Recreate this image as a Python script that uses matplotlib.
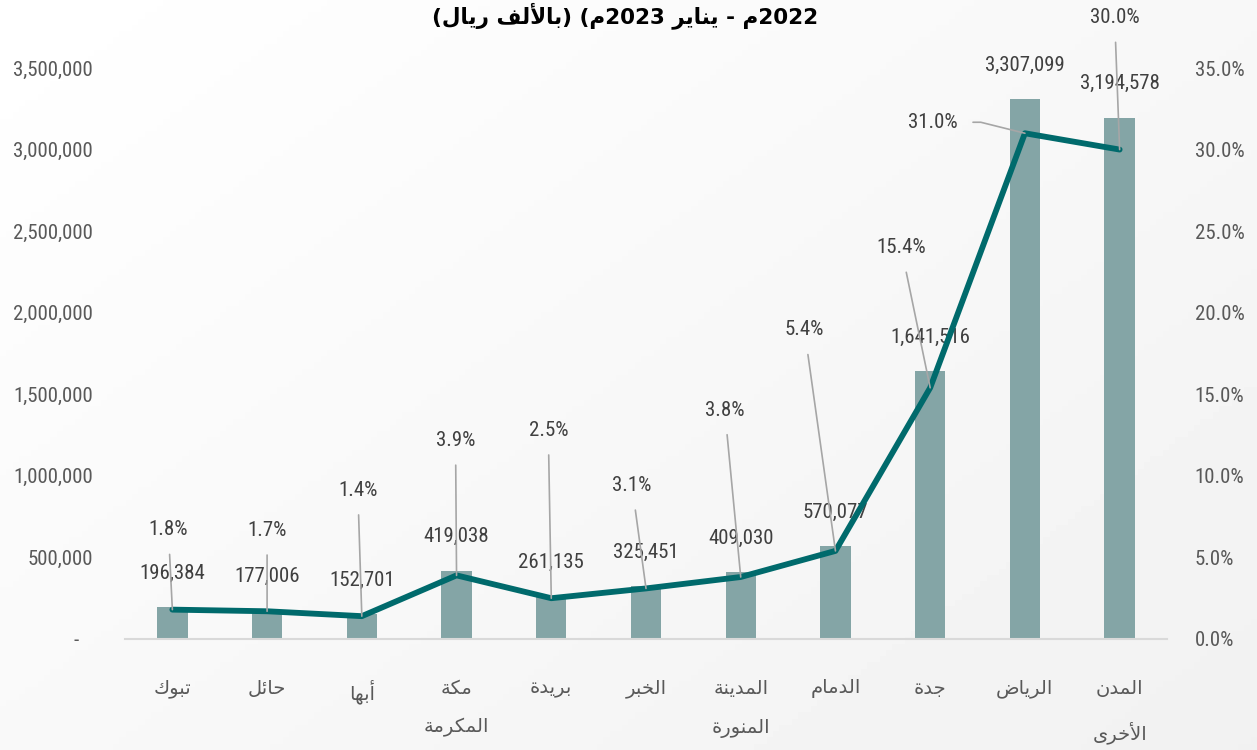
#!/usr/bin/env python3
import re
import numpy as np
import matplotlib
matplotlib.use('Agg')
import matplotlib.pyplot as plt
from matplotlib import font_manager
from matplotlib.ticker import FuncFormatter, MultipleLocator

# data (thousand SAR) and share of total
cities = ['تبوك', 'حائل', 'أبها', 'مكة\nالمكرمة', 'بريدة', 'الخبر',
          'المدينة\nالمنورة', 'الدمام', 'جدة', 'الرياض', 'المدن\nالأخرى']
values = [196384, 177006, 152701, 419038, 261135, 325451,
          409030, 570077, 1641516, 3307099, 3194578]
shares = [1.8, 1.7, 1.4, 3.9, 2.5, 3.1, 3.8, 5.4, 15.4, 31.0, 30.0]
title = '2022م - يناير 2023م) (بالألف ريال)'

# where each percentage label sits, in pixels from its point
pct_offsets = [(-4, 80), (0, 81), (-4, 126), (-1, 135), (-3, 168), (-14, 103),
               (-16, 167), (-31, 221), (-29, 140), (-92, 11), (-5, 132)]

# --- tiny arabic shaper: matplotlib does no shaping / bidi on its own
FORMS = {
    'آ': (0xFE81, False), 'أ': (0xFE83, False), 'ؤ': (0xFE85, False),
    'إ': (0xFE87, False), 'ئ': (0xFE89, True), 'ا': (0xFE8D, False),
    'ب': (0xFE8F, True), 'ة': (0xFE93, False), 'ت': (0xFE95, True),
    'ث': (0xFE99, True), 'ج': (0xFE9D, True), 'ح': (0xFEA1, True),
    'خ': (0xFEA5, True), 'د': (0xFEA9, False), 'ذ': (0xFEAB, False),
    'ر': (0xFEAD, False), 'ز': (0xFEAF, False), 'س': (0xFEB1, True),
    'ش': (0xFEB5, True), 'ص': (0xFEB9, True), 'ض': (0xFEBD, True),
    'ط': (0xFEC1, True), 'ظ': (0xFEC5, True), 'ع': (0xFEC9, True),
    'غ': (0xFECD, True), 'ف': (0xFED1, True), 'ق': (0xFED5, True),
    'ك': (0xFED9, True), 'ل': (0xFEDD, True), 'م': (0xFEE1, True),
    'ن': (0xFEE5, True), 'ه': (0xFEE9, True), 'و': (0xFEED, False),
    'ى': (0xFEEF, False), 'ي': (0xFEF1, True),
}
LAM_ALEF = {'آ': 0xFEF5, 'أ': 0xFEF7, 'إ': 0xFEF9, 'ا': 0xFEFB}


def shape(s):
    out = []
    i = 0
    prev = False
    while i < len(s):
        c = s[i]
        if c not in FORMS:
            out.append(c)
            prev = False
            i += 1
            continue
        nxt = s[i + 1] if i + 1 < len(s) else ''
        if c == 'ل' and nxt in LAM_ALEF:
            out.append(chr(LAM_ALEF[nxt] + (1 if prev else 0)))
            prev = False
            i += 2
            continue
        base, dual = FORMS[c]
        joins_next = dual and nxt in FORMS
        if prev and joins_next:
            f = 3
        elif prev:
            f = 1
        elif joins_next:
            f = 2
        else:
            f = 0
        out.append(chr(base + f))
        prev = dual
        i += 1
    return out


def ar(text):
    lines = []
    for line in text.split('\n'):
        s = ''.join(reversed(shape(line)))
        s = re.sub(r'[0-9]+', lambda m: m.group(0)[::-1], s)
        s = s.translate(str.maketrans('()', ')('))
        lines.append(s)
    return '\n'.join(lines)


names = {f.name for f in font_manager.fontManager.ttflist}
num_font, num_size = 'DejaVu Sans', 11.5
for name, size in [('Liberation Sans Narrow', 16), ('Roboto Condensed', 15),
                   ('DejaVu Sans Condensed', 13), ('Roboto', 14)]:
    if name in names:
        num_font, num_size = name, size
        break
plt.rcParams['font.family'] = [num_font, 'DejaVu Sans']

bar_col = '#84A5A6'
line_col = '#006A6C'
lbl_col = '#404040'
tick_col = '#595959'
lead_col = '#A6A6A6'

fig = plt.figure(figsize=(12.57, 7.5), dpi=100)

# soft diagonal background
bg = fig.add_axes([0, 0, 1, 1], zorder=-10)
gx, gy = np.meshgrid(np.linspace(0, 1, 200), np.linspace(0, 1, 120))
g = 1.0 - 0.055 * (0.55 * gx + 0.45 * gy)
bg.imshow(g, cmap='gray', vmin=0, vmax=1, aspect='auto', extent=[0, 1, 0, 1], origin='upper')
bg.axis('off')

W, H = 1257, 750
ax = fig.add_axes([125 / W, 1 - 639 / H, (1167 - 125) / W, (639 - 68) / H])
ax.patch.set_alpha(0)
x = np.arange(len(cities))

ax.bar(x, values, width=0.32, color=bar_col, zorder=2)
ax.set_xlim(-0.5, len(cities) - 0.5)
ax.set_ylim(0, 3500000)
ax.yaxis.set_major_locator(MultipleLocator(500000))
ax.yaxis.set_major_formatter(FuncFormatter(lambda v, p: f'{v:,.0f}' if v else '-   '))

for i, v in enumerate(values):
    ax.annotate(f'{v:,}', (i, v), xytext=(0, 34), textcoords='offset pixels',
                ha='center', va='center', fontsize=num_size, color=lbl_col, zorder=3)

ax.set_xticks(x)
ax.set_xticklabels([ar(c) for c in cities], family='DejaVu Sans', fontsize=14,
                   color=tick_col, linespacing=2.3)
ax.tick_params(axis='x', length=0, pad=29)
ax.tick_params(axis='y', length=0, pad=23, labelsize=num_size, labelcolor=tick_col)

for side in ['top', 'left', 'right']:
    ax.spines[side].set_visible(False)
ax.spines['bottom'].set_color('#D9D9D9')
ax.spines['bottom'].set_linewidth(1.5)

ax2 = ax.twinx()
ax2.set_ylim(0, 35)
ax2.yaxis.set_major_locator(MultipleLocator(5))
ax2.yaxis.set_major_formatter(FuncFormatter(lambda v, p: f'{v:.1f}%'))
ax2.tick_params(axis='y', length=0, pad=20, labelsize=num_size, labelcolor=tick_col)
for s in ax2.spines.values():
    s.set_visible(False)

ax2.plot(x, shares, color=line_col, lw=4.2, solid_capstyle='round',
         solid_joinstyle='round', zorder=4)

for i, (s, off) in enumerate(zip(shares, pct_offsets)):
    if off[1] < 30:
        conn = 'angle,angleA=0,angleB=-14,rad=0'
    else:
        conn = 'arc3'
    ax2.annotate(f'{s:.1f}%', (i, s), xytext=off, textcoords='offset pixels',
                 ha='center', va='center', fontsize=num_size, color=lbl_col,
                 arrowprops=dict(arrowstyle='-', color=lead_col, lw=1.2,
                                 shrinkA=9, shrinkB=0, connectionstyle=conn),
                 zorder=5)

fig.text(625 / W, 1 - 2 / H, ar(title), ha='center', va='top',
         fontsize=15.5, fontweight='bold', family='DejaVu Sans', color='black')

fig.savefig('out.png', dpi=100)
